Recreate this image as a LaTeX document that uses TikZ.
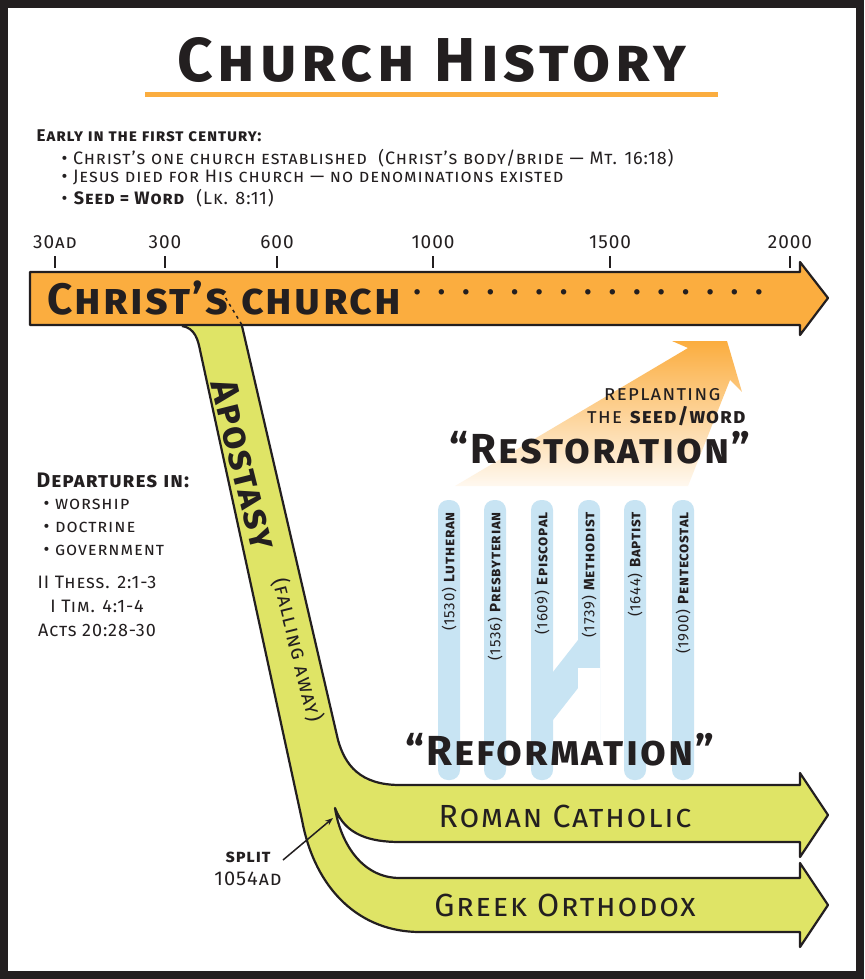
\documentclass[tikz,border=0pt]{standalone}
\usepackage{fontspec}
\setmainfont{Fira Sans}[LetterSpace=5,SmallCapsFeatures={Letters=SmallCaps}]
\usetikzlibrary{arrows.meta,shadings}
\definecolor{org}{HTML}{FBAD3F}
\definecolor{grn}{HTML}{DFE466}
\definecolor{blu}{HTML}{C8E4F3}
\definecolor{ink}{HTML}{231F20}
\tikzset{
 outl/.style={draw=ink,line width=2.2pt,line join=round},
 bar/.style={fill=blu,rounded corners=10pt},
 dl/.style={rotate=90,anchor=east,font=\fontsize{15}{15}\selectfont\scshape,text=ink},
 yr/.style={font=\fontsize{19}{19}\selectfont\scshape,text=ink},
 txt/.style={font=\fontsize{18}{20}\selectfont\scshape,text=ink,anchor=west},
}
\begin{document}
\begin{tikzpicture}[x=1pt,y=-1pt]
\useasboundingbox (0,0) rectangle (864,979);
\fill[ink] (0,0) rectangle (864,979);
\fill[white] (8,8) rectangle (856,971);
% title
\node[font=\fontsize{62}{62}\selectfont\bfseries\scshape\addfontfeatures{LetterSpace=8},text=ink] (title) at (432,60) {Church History};
\fill[org] (145,92) rectangle (718,97);
\node[txt,font=\fontsize{17}{20}\selectfont\bfseries\scshape] (early) at (33,136) {Early in the first century:};
\node[txt] (b1) at (58,158) {• Christ’s one church established\ \ (Christ’s body/bride — Mt. 16:18)};
\node[txt] (b2) at (58,178) {• Jesus died for His church — no denominations existed};
\node[txt] (b3) at (58,198) {• \textbf{Seed = Word}\ \ (Lk. 8:11)};
% years
\foreach \x/\t/\n in {55/30ad/ya,165/300/yb,277/600/yc,433/1000/yd,610/1500/ye,790/2000/yf}{
 \node[yr] (\n) at (\x,242) {\t};
 \draw[ink,line width=1.5pt] (\x,256) -- (\x,268);
}
% apostasy band
\draw[outl,fill=grn]
 (182,326) .. controls (195,328) and (198,340) .. (200,350)
 -- (302,820) .. controls (315,890) and (360,932) .. (420,932)
 -- (800,932) -- (800,947) -- (828,905) -- (800,863) -- (800,878)
 -- (400,878) .. controls (360,878) and (340,840) .. (335,808)
 .. controls (345,835) and (370,842) .. (400,842)
 -- (800,842) -- (800,857) -- (828,815) -- (800,773) -- (800,785)
 -- (400,785) .. controls (360,785) and (345,765) .. (338,740)
 -- (242,326);
% christ's church arrow
\draw[outl,fill=org] (30,272) -- (800,272) -- (800,262) -- (828,298) -- (800,335) -- (800,325) -- (30,325) -- cycle;
\draw[ink,line width=1.5pt,dash pattern=on 3pt off 4pt] (222,292) -- (242,325);
\node[font=\fontsize{44}{44}\selectfont\bfseries\scshape,text=ink,anchor=west] (cc) at (44,298) {Christ’s church};
\node[font=\fontsize{30}{30}\selectfont\bfseries,text=ink,anchor=west] (dots) at (410,292) {.\ \ .\ \ .\ \ .\ \ .\ \ .\ \ .\ \ .\ \ .\ \ .\ \ .\ \ .\ \ .\ \ .\ \ .};
% band labels
\node[rotate=-76,font=\fontsize{38}{38}\selectfont\bfseries\scshape,text=ink] (apo) at (244,465) {Apostasy};
\node[rotate=-76,font=\fontsize{21}{21}\selectfont\scshape,text=ink] (fall) at (298,650) {(falling away)};
\node[font=\fontsize{32}{32}\selectfont\scshape,text=ink] (rc) at (565,816) {Roman Catholic};
\node[font=\fontsize{32}{32}\selectfont\scshape,text=ink] (go) at (565,905) {Greek Orthodox};
% split
\node[font=\fontsize{18}{18}\selectfont\bfseries\scshape,text=ink] (split) at (248,857) {split};
\node[font=\fontsize{20}{20}\selectfont\scshape,text=ink] (yr54) at (248,879) {1054ad};
\coordinate (sp) at (333,818);
\draw[ink,line width=1.5pt,-{Stealth[length=8pt]}] (283,860) -- (sp);
% left text
\node[txt,font=\fontsize{21}{21}\selectfont\bfseries\scshape] (dep) at (33,480) {Departures in:};
\node[txt] (w) at (40,504) {• worship};
\node[txt] (d) at (40,527) {• doctrine};
\node[txt] (g) at (40,550) {• government};
\node[txt,anchor=center] (r1) at (97,582) {II Thess. 2:1-3};
\node[txt,anchor=center] (r2) at (97,606) {I Tim. 4:1-4};
\node[txt,anchor=center] (r3) at (97,630) {Acts 20:28-30};
% restoration arrow
\shade[top color=org,bottom color=org!8] (455,486) -- (688,348) -- (672,341) -- (727,341) -- (742,392) -- (730,380) -- (688,486) -- cycle;
\node[font=\fontsize{21}{21}\selectfont\scshape,text=ink,anchor=east] (rep) at (724,395) {replanting};
\node[font=\fontsize{21}{21}\selectfont\scshape,text=ink,anchor=east] (seed) at (750,416) {the \textbf{seed/word}};
\node[font=\fontsize{42}{42}\selectfont\bfseries\scshape,text=ink] (rest) at (600,448) {“Restoration”};
% bars
\foreach \x in {449,495,542,589,635,683}{\fill[bar] (\x-11,500) -- (\x+11,500) -- (\x+11,780) -- (\x-11,780) -- cycle;}
\fill[blu] (578,640) -- (600,660) -- (553,720) -- (531,700) -- cycle;
\fill[white] (578,668) rectangle (600,781);
\foreach \x/\y/\n/\m in {449/1530/Lutheran/la,495/1536/Presbyterian/lb,542/1609/Episcopal/lc,589/1739/Methodist/ld,635/1644/Baptist/le,683/1900/Pentecostal/lf}{
 \node[dl] (\m) at (\x,508) {(\y) \textbf{\n}};
}
\node[font=\fontsize{42}{42}\selectfont\bfseries\scshape,text=ink] (ref) at (560,750) {“Reformation”};
\end{tikzpicture}
\end{document}
